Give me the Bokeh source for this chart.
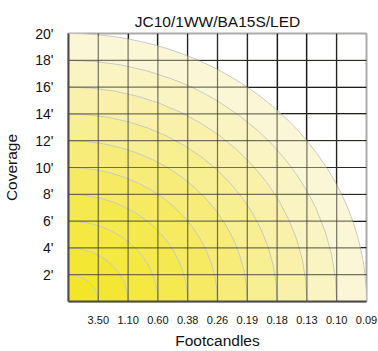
from bokeh.plotting import figure
from bokeh.models import FixedTicker, Range1d
from bokeh.embed import file_html
from bokeh.resources import INLINE

# --- data ---
title = "JC10/1WW/BA15S/LED"
footcandles = ["3.50", "1.10", "0.60", "0.38", "0.26", "0.19", "0.18", "0.13", "0.10", "0.09"]
fc_pos = [1, 2, 3, 4, 5, 6, 7, 8, 9, 10]          # column index of each footcandle level
coverage_ft = [2, 4, 6, 8, 10, 12, 14, 16, 18, 20]  # coverage (ft) at each footcandle level
ring_colors = ["#F3E62A", "#F4E734", "#F4E841", "#F5E950", "#F6EA63",
               "#F7EC7A", "#F8EE92", "#F9F1AA", "#FAF4C2", "#FBF7D6"]

FONT = "Liberation Sans"

p = figure(width=378, height=351, output_backend="svg", toolbar_location=None,
           x_range=Range1d(0, 10), y_range=Range1d(0, 20),
           min_border_left=63, min_border_right=12, min_border_top=33, min_border_bottom=43)

p.title.text = title
p.title.align = "center"
p.title.text_font = FONT
p.title.text_font_size = "15.5px"
p.title.text_font_style = "normal"
p.title.text_color = "#111111"
p.title.standoff = 7

# rings, outer to inner
for k in range(len(fc_pos) - 1, -1, -1):
    p.ellipse(x=0, y=0, width=2 * fc_pos[k], height=2 * coverage_ft[k],
              fill_color=ring_colors[k], line_color="#c9c9c4", line_width=1)

# grid underneath (black, visible over white)
p.xgrid.ticker = FixedTicker(ticks=fc_pos[:-1])
p.ygrid.ticker = FixedTicker(ticks=coverage_ft[:-1])
for g in (p.xgrid, p.ygrid):
    g.grid_line_color = "black"
    g.grid_line_width = 1.2
    g.grid_line_alpha = 1.0

# grid overlay (darkens over yellow)
xs = fc_pos[:-1]
ys = coverage_ft[:-1]
p.segment(x0=xs, y0=[0] * len(xs), x1=xs, y1=[20] * len(xs),
          line_color="#3a3a30", line_alpha=0.7, line_width=1.2)
p.segment(x0=[0] * len(ys), y0=ys, x1=[10] * len(ys), y1=ys,
          line_color="#3a3a30", line_alpha=0.7, line_width=1.2)

# axes
p.xaxis.ticker = FixedTicker(ticks=fc_pos)
p.xaxis.major_label_overrides = {pos: lab for pos, lab in zip(fc_pos, footcandles)}
p.yaxis.ticker = FixedTicker(ticks=coverage_ft)
p.yaxis.major_label_overrides = {v: f"{v}'" for v in coverage_ft}
p.xaxis.axis_label = "Footcandles"
p.yaxis.axis_label = "Coverage"
for ax in (p.xaxis, p.yaxis):
    ax.axis_line_color = "#4a4a4a"
    ax.axis_line_width = 2
    ax.major_tick_line_color = None
    ax.minor_tick_line_color = None
    ax.major_label_text_font = FONT
    ax.major_label_text_color = "#111111"
    ax.axis_label_text_font = FONT
    ax.axis_label_text_font_style = "normal"
    ax.axis_label_text_font_size = "15.5px"
    ax.axis_label_text_color = "#111111"
p.xaxis.major_label_text_font_size = "11px"
p.yaxis.major_label_text_font_size = "14px"
p.xaxis.major_label_standoff = 8
p.yaxis.major_label_standoff = 9
p.xaxis.axis_label_standoff = 5
p.yaxis.axis_label_standoff = 12

p.outline_line_color = "#aaaaaa"
p.outline_line_width = 2
p.background_fill_color = "white"

open("out.html", "w").write(file_html(p, INLINE))
